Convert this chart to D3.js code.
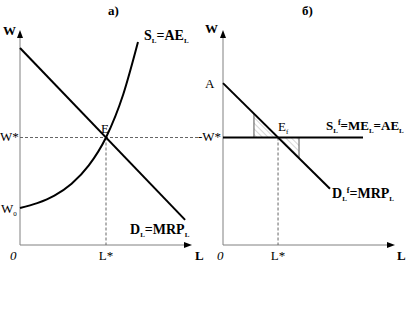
<!DOCTYPE html>
<html>
<head>
<meta charset="utf-8">
<script src="https://cdn.jsdelivr.net/npm/d3@7"></script>
<style>
  body { margin: 0; background: #fff; }
  text { font-family: "Liberation Serif", "Times New Roman", serif; fill: #000; }
  .bold { font-weight: bold; }
</style>
</head>
<body>
<svg width="408" height="316"></svg>
<script>
// ---- data (model units: L and W from 0 to 10) ----
var eqL_a = 5, eqW = 5;                     // L*, W* in panel a
var demandA = [[0, 9.16], [9.6, 1.17]];     // D_L = MRP_L
var supplyA = [[0, 1.72], [1, 1.95], [2, 2.3], [3, 2.85], [4, 3.7], [5, 5.0], [6, 7.0], [6.86, 9.44]]; // S_L = AE_L
var eqL_b = 3.2;                            // L* in panel b
var demandB = [[0, 7.53], [6.22, 2.62]];    // D_L^f = MRP_L
var wageLineEndB = 8.14;                    // S_L^f horizontal line end
var hatchLeftL = 1.8, hatchRightL = 4.42;   // hatched triangles bounds

var svg = d3.select("svg");

var y = d3.scaleLinear().domain([0, 10]).range([245, 30]);
var xa = d3.scaleLinear().domain([0, 10]).range([20, 192]);
var xb = d3.scaleLinear().domain([0, 10]).range([223, 395]);

// hatch pattern
var defs = svg.append("defs");
var pat = defs.append("pattern")
  .attr("id", "hatch").attr("patternUnits", "userSpaceOnUse")
  .attr("width", 4).attr("height", 4)
  .attr("patternTransform", "rotate(-45)");
pat.append("line").attr("x1", 0).attr("y1", 0).attr("x2", 0).attr("y2", 4)
  .attr("stroke", "#999").attr("stroke-width", 0.8);

function axes(x) {
  var x0 = x(0), y0 = y(0);
  svg.append("line").attr("x1", x0).attr("y1", y0).attr("x2", x0).attr("y2", 36)
    .attr("stroke", "#808080").attr("stroke-width", 1);
  svg.append("line").attr("x1", x0).attr("y1", y0).attr("x2", x.range()[1] - 4).attr("y2", y0)
    .attr("stroke", "#808080").attr("stroke-width", 1);
  // arrows
  svg.append("path").attr("d", "M" + x0 + ",30 L" + (x0 - 3) + ",38 L" + (x0 + 3) + ",38 Z").attr("fill", "#000");
  var xe = x.range()[1];
  svg.append("path").attr("d", "M" + xe + "," + y0 + " L" + (xe - 8) + "," + (y0 - 3) + " L" + (xe - 8) + "," + (y0 + 3) + " Z").attr("fill", "#000");
}

function dashed(x1, y1, x2, y2) {
  svg.append("line").attr("x1", x1).attr("y1", y1).attr("x2", x2).attr("y2", y2)
    .attr("stroke", "#666").attr("stroke-width", 1).attr("stroke-dasharray", "3,2");
}

function label(x, yy, parts, opts) {
  opts = opts || {};
  var t = svg.append("text").attr("x", x).attr("y", yy)
    .style("font-size", (opts.size || 14) + "px");
  if (opts.bold) t.attr("class", "bold");
  if (opts.italic) t.style("font-style", "italic");
  if (opts.anchor) t.attr("text-anchor", opts.anchor);
  parts.forEach(function(p) {
    var s = t.append("tspan").text(p.t);
    if (p.sub) s.style("font-size", "7px").attr("dy", 3);
    if (p.sup) s.style("font-size", "8px").attr("dy", -8);
    if (p.back) s.attr("dy", p.back);
  });
  return t;
}

var line = d3.line();

// ================= panel a =================
axes(xa);
dashed(xa(0), y(eqW), 200, y(eqW));
dashed(xa(eqL_a), y(eqW), xa(eqL_a), y(0));

svg.append("path").attr("d", line(demandA.map(function(d) { return [xa(d[0]), y(d[1])]; })))
  .attr("fill", "none").attr("stroke", "#000").attr("stroke-width", 2);
svg.append("path")
  .attr("d", d3.line().curve(d3.curveMonotoneX)(supplyA.map(function(d) { return [xa(d[0]), y(d[1])]; })))
  .attr("fill", "none").attr("stroke", "#000").attr("stroke-width", 2);

label(108, 15, [{t: "а)"}], {bold: true, size: 13});
label(3, 35, [{t: "W"}], {bold: true, size: 13});
label(144, 40, [{t: "S"}, {t: "L", sub: true}, {t: "=AE", back: -3}, {t: "L", sub: true}], {bold: true});
label(101, 133, [{t: "E"}], {size: 13});
label(0, 141, [{t: "W*"}], {size: 13});
label(1, 213, [{t: "W"}, {t: "0", sub: true}], {size: 13});
label(130, 234, [{t: "D"}, {t: "L", sub: true}, {t: "=MRP", back: -3}, {t: "L", sub: true}], {bold: true});
label(10, 260, [{t: "0"}], {italic: true, size: 13});
label(xa(eqL_a), 260, [{t: "L*"}], {size: 13, anchor: "middle"});
label(195, 260, [{t: "L"}], {bold: true, size: 13});

// ================= panel b =================
axes(xb);
dashed(xb(eqL_b), y(eqW), xb(eqL_b), y(0));

var dB = d3.scaleLinear().domain([demandB[0][0], demandB[1][0]]).range([demandB[0][1], demandB[1][1]]);
var triL = [[hatchLeftL, dB(hatchLeftL)], [hatchLeftL, eqW], [eqL_b, eqW]];
var triR = [[eqL_b, eqW], [hatchRightL, eqW], [hatchRightL, dB(hatchRightL)]];
[triL, triR].forEach(function(tri) {
  svg.append("path").attr("d", line(tri.map(function(d) { return [xb(d[0]), y(d[1])]; })) + "Z")
    .attr("fill", "url(#hatch)").attr("stroke", "#555").attr("stroke-width", 1);
});

svg.append("line").attr("x1", xb(0)).attr("y1", y(eqW)).attr("x2", xb(wageLineEndB)).attr("y2", y(eqW))
  .attr("stroke", "#000").attr("stroke-width", 2);
svg.append("path").attr("d", line(demandB.map(function(d) { return [xb(d[0]), y(d[1])]; })))
  .attr("fill", "none").attr("stroke", "#000").attr("stroke-width", 2);

label(302, 15, [{t: "б)"}], {bold: true, size: 13});
label(205, 33, [{t: "W"}], {bold: true, size: 13});
label(205, 88, [{t: "A"}], {size: 13});
label(221, 141, [{t: "-W*"}], {size: 13, anchor: "end"});
label(278, 131, [{t: "E"}, {t: "f", sub: true}], {size: 13});
label(326, 130, [{t: "S"}, {t: "L", sub: true}, {t: "f", sup: true}, {t: "=ME", back: 5}, {t: "L", sub: true}, {t: "=AE", back: -3}, {t: "L", sub: true}], {bold: true, size: 13});
label(332, 198, [{t: "D"}, {t: "L", sub: true}, {t: "f", sup: true}, {t: "=MRP", back: 5}, {t: "L", sub: true}], {bold: true});
label(217, 260, [{t: "0"}], {italic: true, size: 13});
label(xb(eqL_b), 260, [{t: "L*"}], {size: 13, anchor: "middle"});
label(397, 260, [{t: "L"}], {bold: true, size: 13});
</script>
</body>
</html>
